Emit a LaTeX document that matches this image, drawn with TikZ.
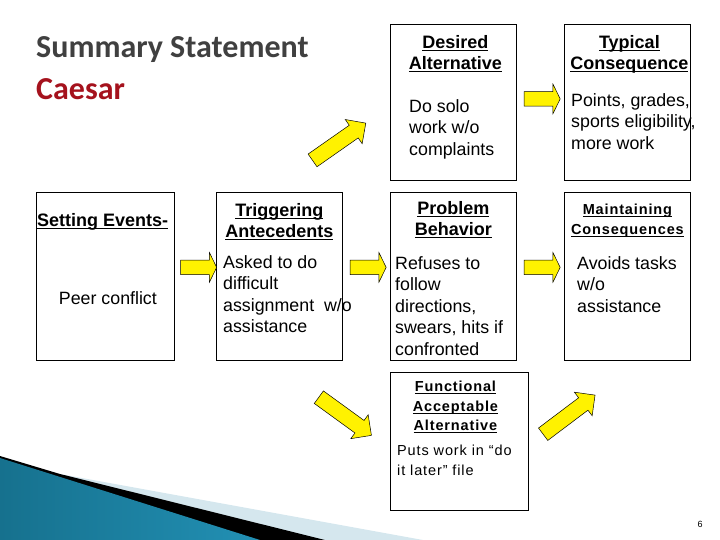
\documentclass[tikz,border=0pt]{standalone}
\usepackage{fontspec}
\setmainfont{Liberation Sans}
\newfontfamily\titlefont{Carlito}
\newfontfamily\spacedfont[LetterSpace=6]{Liberation Sans}
\usepackage{tikz}
\usetikzlibrary{positioning, shapes.arrows, calc}
\definecolor{sumgray}{HTML}{404040}
\definecolor{sumred}{HTML}{A5121D}
\definecolor{wedgedark}{HTML}{16718E}
\definecolor{wedgelight}{HTML}{58BDE0}
\definecolor{wedgeedge}{HTML}{2290B4}
\definecolor{wedgepale}{HTML}{D5E7EE}
\newcommand{\hdul}[1]{\setbox0\hbox{#1}\rlap{\rule[-2.6pt]{\wd0}{1.2pt}}#1}

\begin{document}
\begin{tikzpicture}[x=1pt, y=-1pt,
  box/.style={draw, line width=0.8pt, inner sep=0pt, minimum width=126pt, minimum height=168pt, anchor=north west},
  head/.style={font=\bfseries\fontsize{18}{21.5}\selectfont, align=center, inner sep=0pt},
  smallhead/.style={head, font=\spacedfont\bfseries\fontsize{14.5}{19.5}\selectfont},
  body/.style={font=\fontsize{17.8}{21.6}\selectfont, align=left, inner sep=0pt},
  yarrow/.style={single arrow, draw, fill=yellow, line width=0.5pt, inner sep=7pt, single arrow head extend=7.5pt},
  flat/.style={yarrow, minimum height=36pt, single arrow tip angle=128},
  slant/.style={yarrow, inner sep=7.5pt, single arrow head extend=7pt, minimum height=65pt}]
\useasboundingbox (0,0) rectangle (720,540);

% corner wedge
\fill[wedgepale] (60,474) -- (423,540) -- (0,540) -- cycle;
\fill[black] (0,456) -- (60,474) -- (325,540) -- (0,540) -- cycle;
\shade[left color=wedgedark, middle color=wedgelight, right color=wedgeedge] (0,458) -- (260,540) -- (0,540) -- cycle;

% title
\node[anchor=base west, inner sep=0pt, font=\titlefont\bfseries\fontsize{32}{36}\selectfont, text=sumgray] (title) at (36,58) {Summary Statement};
\node[anchor=base west, inner sep=0pt, font=\titlefont\bfseries\fontsize{32}{36}\selectfont, text=sumred] (name) at (36,100) {Caesar};

% boxes
\node[box, minimum width=138pt] (set) at (36,192) {};
\node[box] (trig) at (216,192) {};
\node[box] (prob) at (390,192) {};
\node[box] (maint) at (564,192) {};
\node[box, minimum height=156pt] (des) at (390,24) {};
\node[box, minimum height=156pt] (typ) at (564,24) {};
\node[box, minimum width=138pt, minimum height=138pt] (func) at (390,372) {};

% headings
\node[head, below right=21pt and 1pt of set.north west] (sethd) {\hdul{Setting Events-}};
\node[head, below=11pt of trig.north] (trighd) {\hdul{Triggering}\\\hdul{Antecedents}};
\node[head, below=9pt of prob.north] (probhd) {\hdul{Problem}\\\hdul{Behavior}};
\node[smallhead, below=12pt of maint.north] (mainthd) {\hdul{Maintaining}\\\hdul{Consequences}};
\node[head, below=11pt of des.north, xshift=2pt] (deshd) {\hdul{Desired}\\\hdul{Alternative}};
\node[head, below=11pt of typ.north, xshift=2pt] (typhd) {\hdul{Typical}\\\hdul{Consequence}};
\node[smallhead, below=9pt of func.north, xshift=-4pt] (funchd) {\hdul{Functional}\\\hdul{Acceptable}\\\hdul{Alternative}};

% contents
\node[body, below=99pt of set.north, xshift=2.5pt] (settx) {Peer conflict};
\node[body, below right=63pt and 7pt of trig.north west] (trigtx) {Asked to do\\difficult\\assignment~ w/o\\assistance};
\node[body, below right=64pt and 5pt of prob.north west] (probtx) {Refuses to\\follow\\directions,\\swears, hits if\\confronted};
\node[body, below right=64pt and 13pt of maint.north west] (mainttx) {Avoids tasks\\w/o\\assistance};
\node[body, below right=75pt and 19pt of des.north west] (destx) {Do solo\\work w/o\\complaints};
\node[body, below right=69pt and 7pt of typ.north west] (typtx) {Points, grades,\\sports eligibility,\\more work};
\node[body, font=\spacedfont\fontsize{14.5}{19.5}\selectfont, below right=73pt and 7pt of func.north west] (functx) {Puts work in “do\\it later” file};

% block arrows
\node[flat] (a1) at ($(set.east)!.5!(trig.west)+(1.5pt,9pt)$) {};
\node[flat] (a2) at ($(trig.east)!.5!(prob.west)+(0pt,9pt)$) {};
\node[flat] (a3) at ($(prob.east)!.5!(maint.west)+(0pt,9pt)$) {};
\node[flat] (a4) at ($(des.east)!.5!(typ.west)+(0pt,3.5pt)$) {};
\node[slant, rotate=35] (upa) at (336,144) {};
\node[slant, rotate=-36] (dna) at (342,414) {};
\node[slant, rotate=37] (upb) at (566,417) {};

\node[font=\fontsize{9}{10}\selectfont, inner sep=0pt] (pg) at (700,524) {6};
\end{tikzpicture}
\end{document}
